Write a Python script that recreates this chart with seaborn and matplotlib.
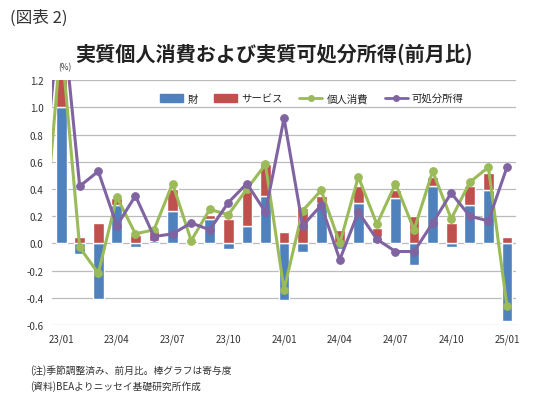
import numpy as np
import pandas as pd
import matplotlib
matplotlib.use("Agg")
import matplotlib.pyplot as plt
import seaborn as sns
from matplotlib.lines import Line2D
from matplotlib.patches import Patch

# ---- data ----
months = ["23/01", "23/02", "23/03", "23/04", "23/05", "23/06", "23/07", "23/08",
          "23/09", "23/10", "23/11", "23/12", "24/01", "24/02", "24/03", "24/04",
          "24/05", "24/06", "24/07", "24/08", "24/09", "24/10", "24/11", "24/12",
          "25/01"]
goods = [1.00, -0.08, -0.41, 0.28, -0.03, 0.02, 0.24, 0.00, 0.18, -0.04, 0.13, 0.35,
         -0.42, -0.06, 0.30, -0.04, 0.30, 0.05, 0.33, -0.16, 0.42, -0.03, 0.28, 0.39,
         -0.57]
services = [0.50, 0.05, 0.15, 0.05, 0.06, 0.07, 0.16, 0.02, 0.03, 0.18, 0.27, 0.23,
            0.08, 0.26, 0.05, 0.10, 0.12, 0.06, 0.06, 0.20, 0.07, 0.15, 0.14, 0.13,
            0.05]
consumption = [1.50, -0.03, -0.22, 0.34, 0.07, 0.10, 0.44, 0.02, 0.25, 0.21, 0.40, 0.58,
               -0.34, 0.24, 0.39, 0.00, 0.49, 0.14, 0.44, 0.10, 0.53, 0.18, 0.45, 0.56,
               -0.46]
income = [1.80, 0.42, 0.53, 0.13, 0.35, 0.05, 0.07, 0.15, 0.10, 0.30, 0.44, 0.23,
          0.92, 0.13, 0.28, -0.12, 0.23, 0.03, -0.06, -0.06, 0.15, 0.37, 0.20, 0.165,
          0.56]
# value of the month before the first category (22/12), only its segment shows
consumption_prev = -0.10
income_prev = 0.40

yticks = [1.2, 1.0, 0.8, 0.6, 0.4, 0.2, 0.0, -0.2, -0.4, -0.6]
xtick_labels = months[::3]

BLUE = "#4F81BD"
RED = "#C0504D"
GREEN = "#9BBB59"
PURPLE = "#8064A2"

sns.set_theme(style="white")
plt.rcParams["font.family"] = ["Noto Sans CJK JP", "DejaVu Sans"]
plt.rcParams["axes.unicode_minus"] = False

fig = plt.figure(figsize=(5.4, 4.1), dpi=100)
ax = fig.add_axes([0.096, 0.205, 0.86, 0.597])

x = np.arange(len(months))
g = np.array(goods)
s = np.array(services)
# Excel style stacking: positives upward, negatives downward
g_bottom = np.zeros_like(g)
s_bottom = np.where(s >= 0, np.where(g > 0, g, 0.0), np.where(g < 0, g, 0.0))

ax.bar(x, g, bottom=g_bottom, width=0.58, color=BLUE, zorder=2, label="財")
ax.bar(x, s, bottom=s_bottom, width=0.58, color=RED, zorder=2, label="サービス")

xl = np.concatenate([[-1], x])
df = pd.DataFrame({
    "x": xl,
    "cons": np.concatenate([[consumption_prev], consumption]),
    "inc": np.concatenate([[income_prev], income]),
})
sns.lineplot(data=df, x="x", y="cons", ax=ax, color=GREEN, lw=2.2, marker="o",
             markersize=5.5, markeredgecolor=GREEN, zorder=3)
sns.lineplot(data=df, x="x", y="inc", ax=ax, color=PURPLE, lw=2.2, marker="o",
             markersize=5.5, markeredgecolor=PURPLE, zorder=4)

ax.set_xlim(-0.5, len(months) - 0.5)
ax.set_ylim(-0.6, 1.2)
ax.set_yticks(yticks)
ax.set_yticklabels([f"{v:.1f}" for v in yticks], fontsize=7, color="#333333")
ax.set_xticks(x[::3])
ax.set_xticklabels(xtick_labels, fontsize=7, color="#333333")
ax.tick_params(axis="both", length=0, pad=6)
ax.set_xlabel("")
ax.set_ylabel("")
for sp in ax.spines.values():
    sp.set_visible(False)
ax.yaxis.grid(True, color="#BBBBBB", lw=0.9)
ax.set_axisbelow(True)

handles = [Patch(color=BLUE, label="財"),
           Patch(color=RED, label="サービス"),
           Line2D([0], [0], color=GREEN, lw=2, marker="o", markersize=4, label="個人消費"),
           Line2D([0], [0], color=PURPLE, lw=2, marker="o", markersize=4, label="可処分所得")]
ax.legend(handles=handles, loc="upper center", bbox_to_anchor=(0.56, 0.985), ncol=4,
          frameon=False, fontsize=7.5, handlelength=2.2, handleheight=0.8,
          columnspacing=1.6, handletextpad=0.4)

fig.text(0.018, 0.955, "(図表 2)", fontsize=12, color="#333333", va="center")
fig.text(0.508, 0.868, "実質個人消費および実質可処分所得(前月比)", fontsize=14.5,
         fontweight="bold", ha="center", va="center", color="#222222")
fig.text(0.108, 0.835, "(%)", fontsize=6, ha="left", va="center", color="#333333")
fig.text(0.055, 0.097, "(注)季節調整済み、前月比。棒グラフは寄与度", fontsize=7,
         va="center", color="#333333")
fig.text(0.055, 0.058, "(資料)BEAよりニッセイ基礎研究所作成", fontsize=7,
         va="center", color="#333333")

fig.savefig("out.png", dpi=100)
